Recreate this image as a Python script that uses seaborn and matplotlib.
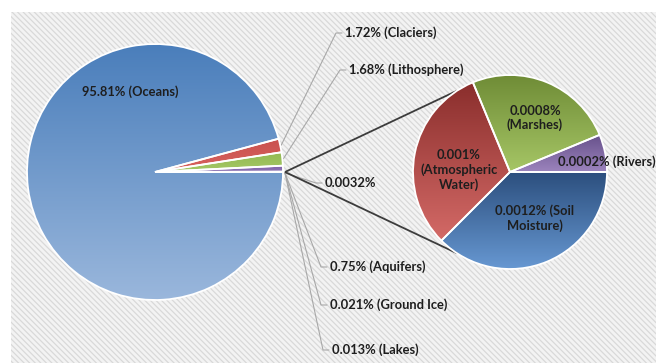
import numpy as np
import matplotlib
matplotlib.use("Agg")
import matplotlib.pyplot as plt
import seaborn as sns
from matplotlib.patches import Rectangle
from matplotlib.colors import to_rgb

# ---- data -------------------------------------------------------------
main_labels = ["Other", "Lakes", "Ground Ice", "Aquifers", "Lithosphere", "Claciers", "Oceans"]
main_values = [0.0032, 0.013, 0.021, 0.75, 1.68, 1.72, 95.81]

sub_labels = ["Rivers", "Marshes", "Atmospheric Water", "Soil Moisture"]
sub_values = [0.0002, 0.0008, 0.001, 0.0012]

# ---- style ------------------------------------------------------------
sns.set_theme(style="white")
plt.rcParams["font.family"] = ["Lato", "DejaVu Sans"]
plt.rcParams["hatch.linewidth"] = 0.9
TXT = "#1e1e1e"

# gradient (top, bottom) per slice
main_grad = [
    ("#4a7ebb", "#4a7ebb"),   # Other
    ("#f79646", "#f79646"),   # Lakes
    ("#4bacc6", "#4bacc6"),   # Ground Ice
    ("#7d62a6", "#8f74b5"),   # Aquifers
    ("#93b953", "#a5c865"),   # Lithosphere
    ("#c9514e", "#d8625f"),   # Claciers
    ("#4a7ebb", "#9ab7dc"),   # Oceans
]
sub_grad = [
    ("#66508a", "#9c84bd"),   # Rivers
    ("#6f8c36", "#a6c666"),   # Marshes
    ("#8a2e2c", "#d46a67"),   # Atmospheric Water
    ("#2c4f7e", "#6798d2"),   # Soil Moisture
]

W, H = 656, 363
fig = plt.figure(figsize=(W / 100, H / 100), dpi=100)
ax = fig.add_axes([0, 0, 1, 1])


def Y(py):
    return H - py


# hatched chart area
ax.add_patch(Rectangle((11, 0), W - 11, Y(12), facecolor="#f3f3f3",
                       edgecolor="#d9d9d9", hatch="\\\\\\\\\\\\", linewidth=0,
                       zorder=0))


def gradient_fill(wedge, top, bottom, z):
    bb = wedge.get_path().get_extents()
    t = np.linspace(0, 1, 256)[:, None, None]
    img = (1 - t) * np.array(to_rgb(top)) + t * np.array(to_rgb(bottom))
    im = ax.imshow(img, extent=(bb.x0, bb.x1, bb.y0, bb.y1), origin="upper",
                   aspect="auto", zorder=z, interpolation="bilinear")
    im.set_clip_path(wedge)
    wedge.set_facecolor("none")
    wedge.set_zorder(z + 0.1)


# ---- main pie ---------------------------------------------------------
mc, mr = (155, Y(172)), 128
mw, _ = ax.pie(main_values, startangle=0, counterclock=True, center=mc,
               radius=mr, colors=[g[0] for g in main_grad],
               wedgeprops=dict(edgecolor="white", linewidth=1.3))
for w, (a, b) in zip(mw, main_grad):
    gradient_fill(w, a, b, 2)

# ---- secondary pie ----------------------------------------------------
sc, sr = (510, Y(172)), 97
sw, _ = ax.pie(sub_values, startangle=0, counterclock=True, center=sc,
               radius=sr, colors=[g[0] for g in sub_grad],
               wedgeprops=dict(edgecolor="white", linewidth=1.3))
for w, (a, b) in zip(sw, sub_grad):
    gradient_fill(w, a, b, 2)

# connector lines between the two pies
origin = (mc[0] + mr + 2, mc[1])
for ang in (123, 237):
    end = (sc[0] + sr * np.cos(np.radians(ang)), sc[1] + sr * np.sin(np.radians(ang)))
    ax.plot([origin[0], end[0]], [origin[1], end[1]], color="#3c3c3c",
            lw=1.3, zorder=1.5, solid_capstyle="butt")

# ---- labels ----------------------------------------------------------
fs = 9.3
oceans = main_values[-1]
ax.text(130, Y(92), f"{oceans:g}% ({main_labels[-1]})", ha="center",
        va="center", fontsize=fs, fontweight="bold", color=TXT, zorder=5)

# leader-line label positions (pixel coordinates of label left edge)
label_pos = {
    "Claciers": (345, 33),
    "Lithosphere": (349, 70),
    "Other": (325, 183),
    "Aquifers": (330, 267),
    "Ground Ice": (330, 305),
    "Lakes": (332, 350),
}
for w, name, val in zip(mw, main_labels, main_values):
    if name not in label_pos:
        continue
    mid = np.radians((w.theta1 + w.theta2) / 2)
    start = (mc[0] + (mr + 1) * np.cos(mid), mc[1] + (mr + 1) * np.sin(mid))
    if name in ("Aquifers", "Ground Ice", "Lakes", "Other"):
        start = (origin[0], origin[1] - 1)
    lx, ly = label_pos[name]
    tick_end = lx - 3
    tick_start = lx - 9
    ax.plot([start[0], tick_start, tick_end], [start[1], Y(ly), Y(ly)],
            color="#a8a8a8", lw=0.8, zorder=1.2)
    txt = f"{val:g}%" if name == "Other" else f"{val:g}% ({name})"
    ax.text(lx, Y(ly), txt, ha="left", va="center", fontsize=fs,
            fontweight="bold", color=TXT, zorder=5)

sub_text = ["{} (Rivers)", "{}\n(Marshes)", "{}\n(Atmospheric\nWater)", "{} (Soil\nMoisture)"]
sub_pos = [(558, 162, "left"), (535, 118, "center"), (459, 170, "center"), (535, 218, "center")]
for tmpl, val, (px, py, ha) in zip(sub_text, sub_values, sub_pos):
    ax.text(px, Y(py), tmpl.format(f"{val:g}%"), ha=ha, va="center",
            multialignment="center", fontsize=fs, fontweight="bold",
            color=TXT, linespacing=1.2, zorder=5)

ax.set_xlim(0, W)
ax.set_ylim(0, H)
ax.set_aspect("equal")
ax.axis("off")
fig.savefig("out.png", dpi=100, facecolor="white")
